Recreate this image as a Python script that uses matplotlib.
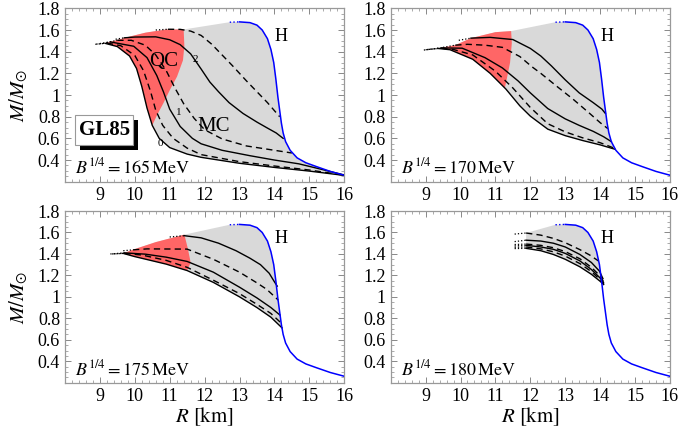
import numpy as np
import matplotlib
matplotlib.use('Agg')
import matplotlib.pyplot as plt
from matplotlib.patches import Rectangle, Polygon
from matplotlib.ticker import MultipleLocator, FuncFormatter

plt.rcParams['font.family'] = ['Liberation Serif', 'DejaVu Serif']
plt.rcParams['mathtext.fontset'] = 'stix'

# hadronic branch (H), same in every panel; first segment is the dotted part
H_R = [12.72, 13.0, 13.3, 13.5, 13.65, 13.8, 13.9, 13.98, 14.04, 14.1, 14.15, 14.2,
       14.25, 14.32, 14.45, 14.65, 14.9, 15.2, 15.6, 16.0]
H_M = [1.672, 1.675, 1.668, 1.645, 1.60, 1.52, 1.42, 1.30, 1.15, 0.98, 0.86, 0.74,
       0.65, 0.57, 0.49, 0.42, 0.375, 0.34, 0.295, 0.26]

# ---- B^1/4 = 165 MeV ----
s0_165_R = [8.87, 9.15, 9.5, 9.85, 10.05, 10.2, 10.35, 10.5, 10.7, 11.0, 11.5, 11.9, 13.0, 14.0, 15.0, 16.0]
s0_165_M = [1.468, 1.477, 1.447, 1.36, 1.245, 1.08, 0.88, 0.72, 0.60, 0.515, 0.455, 0.425, 0.37, 0.332, 0.298, 0.258]
d0_165_R = [8.9, 9.2, 9.6, 10.0, 10.25, 10.45, 10.6, 10.8, 11.1, 11.5, 11.9, 13.0, 14.0, 15.0, 16.0]
d0_165_M = [1.47, 1.48, 1.455, 1.365, 1.225, 1.035, 0.86, 0.72, 0.60, 0.51, 0.45, 0.385, 0.345, 0.308, 0.26]
s1_165_R = [9.0, 9.3, 9.97, 10.35, 10.63, 10.82, 11.0, 11.3, 11.65, 11.9, 12.5, 13.3, 14.0, 14.7, 15.3, 16.0]
s1_165_M = [1.475, 1.49, 1.45, 1.345, 1.18, 1.03, 0.87, 0.71, 0.60, 0.55, 0.49, 0.44, 0.40, 0.365, 0.318, 0.262]
d1_165_R = [9.2, 9.5, 9.9, 10.3, 10.6, 10.9, 11.15, 11.4, 11.7, 12.0, 12.5, 13.2, 14.0, 14.5]
d1_165_M = [1.485, 1.505, 1.505, 1.46, 1.37, 1.225, 1.065, 0.92, 0.785, 0.68, 0.595, 0.53, 0.49, 0.465]
s2_165_R = [9.45, 9.7, 10.0, 10.6, 11.0, 11.3, 11.6, 11.9, 12.15, 12.4, 12.7, 13.1, 13.5, 13.8, 14.05, 14.25]
s2_165_M = [1.515, 1.528, 1.535, 1.537, 1.51, 1.465, 1.38, 1.24, 1.12, 1.03, 0.93, 0.83, 0.75, 0.695, 0.65, 0.6]
d2_165_R = [10.6, 10.95, 11.3, 11.6, 11.9, 12.2, 12.5, 12.8, 13.2, 13.5, 13.8, 14.15]
d2_165_M = [1.6, 1.607, 1.606, 1.59, 1.55, 1.47, 1.37, 1.27, 1.13, 1.03, 0.93, 0.8]
env_165_R = [9.15, 9.8, 10.3, 10.9, 11.4]
env_165_M = [1.477, 1.535, 1.575, 1.605, 1.605]
qc_165_R = [11.4, 11.42, 11.38, 11.21, 11.01, 10.82, 10.63, 10.5]
qc_165_M = [1.605, 1.45, 1.32, 1.17, 1.05, 0.925, 0.81, 0.72]

# ---- B^1/4 = 170 MeV ----
s0_170_R = [8.95, 9.35, 9.7, 10.35, 10.85, 11.3, 11.7, 12.0, 12.5, 13.0, 13.5, 14.0, 14.42]
s0_170_M = [1.415, 1.43, 1.418, 1.33, 1.2, 1.055, 0.9, 0.805, 0.685, 0.625, 0.58, 0.54, 0.5]
d0_170_R = [9.0, 9.45, 9.8, 10.35, 11.0, 11.5, 12.0, 12.5, 13.0, 13.5, 14.0, 14.4]
d0_170_M = [1.418, 1.432, 1.42, 1.37, 1.22, 1.065, 0.885, 0.735, 0.66, 0.605, 0.56, 0.51]
s1_170_R = [9.05, 9.45, 10.05, 10.7, 11.2, 11.65, 12.0, 12.5, 13.0, 13.4, 13.8, 14.1, 14.32]
s1_170_M = [1.42, 1.435, 1.432, 1.345, 1.25, 1.13, 1.02, 0.875, 0.78, 0.72, 0.665, 0.615, 0.57]
d1_170_R = [9.5, 9.85, 10.2, 10.7, 11.2, 11.7, 12.05, 12.3, 12.76, 13.23, 13.7, 14.0, 14.22]
d1_170_M = [1.44, 1.46, 1.468, 1.46, 1.44, 1.355, 1.26, 1.2, 1.08, 0.96, 0.83, 0.745, 0.69]
s2_170_R = [9.95, 10.3, 10.85, 11.5, 12.0, 12.3, 12.6, 13.0, 13.4, 13.8, 14.05, 14.15]
s2_170_M = [1.505, 1.525, 1.532, 1.512, 1.43, 1.36, 1.27, 1.14, 1.02, 0.93, 0.87, 0.83]
env_170_R = [9.35, 9.85, 10.3, 11.0, 11.45]
env_170_M = [1.43, 1.46, 1.525, 1.58, 1.59]
qc_170_R = [11.45, 11.47, 11.42, 11.32, 11.27]
qc_170_M = [1.59, 1.48, 1.3, 1.14, 1.065]

# ---- B^1/4 = 175 MeV ----
s0_175_R = [9.3, 9.67, 10.0, 10.9, 11.5, 12.25, 13.0, 13.5, 13.9, 14.22]
s0_175_M = [1.40, 1.405, 1.375, 1.305, 1.245, 1.135, 1.0, 0.9, 0.81, 0.71]
d0_175_R = [9.35, 9.7, 10.2, 10.9, 11.5, 12.25, 13.0, 13.5, 13.9, 14.18]
d0_175_M = [1.40, 1.405, 1.39, 1.34, 1.275, 1.155, 1.03, 0.93, 0.845, 0.76]
s1_175_R = [9.4, 9.7, 10.3, 10.9, 11.5, 12.25, 13.0, 13.5, 13.9, 14.16]
s1_175_M = [1.402, 1.41, 1.398, 1.37, 1.33, 1.23, 1.09, 0.99, 0.9, 0.83]
d1_175_R = [9.67, 9.95, 10.35, 11.5, 12.25, 13.0, 13.5, 13.78, 14.11]
d1_175_M = [1.43, 1.438, 1.447, 1.445, 1.35, 1.23, 1.13, 1.07, 0.97]
s2_175_R = [11.0, 11.42, 11.9, 12.4, 12.9, 13.3, 13.6, 13.85, 14.0, 14.08]
s2_175_M = [1.558, 1.57, 1.55, 1.5, 1.43, 1.36, 1.3, 1.22, 1.14, 1.1]
env_175_R = [9.67, 9.95, 10.6, 11.42]
env_175_M = [1.405, 1.44, 1.51, 1.58]
qc_175_R = [11.42, 11.52, 11.6, 11.5]
qc_175_M = [1.58, 1.45, 1.32, 1.245]

# ---- B^1/4 = 180 MeV ----
s0_180_R = [11.55, 11.88, 12.3, 12.66, 13.0, 13.42, 13.75, 14.0, 14.1]
s0_180_M = [1.45, 1.452, 1.43, 1.395, 1.35, 1.28, 1.21, 1.145, 1.115]
d0_180_R = [11.55, 11.88, 12.3, 12.66, 13.0, 13.42, 13.75, 14.0, 14.1]
d0_180_M = [1.462, 1.465, 1.447, 1.42, 1.38, 1.31, 1.235, 1.16, 1.12]
s1_180_R = [11.55, 11.88, 12.3, 12.66, 13.0, 13.42, 13.75, 14.0, 14.1]
s1_180_M = [1.475, 1.48, 1.465, 1.443, 1.405, 1.335, 1.255, 1.175, 1.13]
d1_180_R = [11.55, 11.88, 12.3, 12.66, 13.0, 13.42, 13.75, 14.0, 14.1]
d1_180_M = [1.488, 1.492, 1.48, 1.458, 1.422, 1.355, 1.275, 1.195, 1.14]
s2_180_R = [11.55, 11.88, 12.3, 12.66, 13.0, 13.42, 13.75, 13.98, 14.08]
s2_180_M = [1.515, 1.528, 1.52, 1.5, 1.465, 1.395, 1.32, 1.24, 1.17]
d2_180_R = [11.55, 11.88, 12.3, 12.66, 13.0, 13.42, 13.7, 13.95]
d2_180_M = [1.585, 1.595, 1.575, 1.545, 1.505, 1.44, 1.39, 1.335]
env_180_R = [11.88, 11.88]
env_180_M = [1.452, 1.595]

B_values = [165, 170, 175, 180]

GRAY = '#d9d9d9'
RED = '#ff6666'


def draw_curve(ax, R, M, dashed):
    # first segment dotted (unstable part), rest solid or dashed
    ax.plot(R[:2], M[:2], color='k', lw=0.9, ls=(0, (1, 1.6)), zorder=4)
    if dashed:
        ax.plot(R[1:], M[1:], color='k', lw=1.0, ls=(0, (4.5, 3)), zorder=4)
    else:
        ax.plot(R[1:], M[1:], color='k', lw=1.0, zorder=4)


def fill_regions(ax, env_R, env_M, s0_R, s0_M, qc_R=None, qc_M=None):
    hr = np.array(H_R)
    hm = np.array(H_M)
    keep = hm > s0_M[-1]
    xs = list(env_R) + list(hr[keep]) + [s0_R[-1]] + list(s0_R[1:-1][::-1])
    ys = list(env_M) + list(hm[keep]) + [s0_M[-1]] + list(s0_M[1:-1][::-1])
    ax.add_patch(Polygon(np.column_stack([xs, ys]), closed=True, fc=GRAY, ec='none', zorder=1))
    if qc_R is None:
        return
    xs = [r for r in env_R if r < qc_R[0]]
    ys = [m for r, m in zip(env_R, env_M) if r < qc_R[0]]
    xs += list(qc_R)
    ys += list(qc_M)
    lower = [(r, m) for r, m in zip(s0_R[1:], s0_M[1:]) if r < qc_R[-1]]
    for r, m in lower[::-1]:
        xs.append(r)
        ys.append(m)
    ax.add_patch(Polygon(np.column_stack([xs, ys]), closed=True, fc=RED, ec='none', zorder=2))


def style_axes(ax):
    ax.set_xlim(8, 16)
    ax.set_ylim(0.2, 1.8)
    ax.xaxis.set_major_locator(MultipleLocator(1))
    ax.xaxis.set_minor_locator(MultipleLocator(0.2))
    ax.yaxis.set_major_locator(MultipleLocator(0.2))
    ax.yaxis.set_minor_locator(MultipleLocator(0.05))
    ax.xaxis.set_major_formatter(FuncFormatter(lambda v, p: '' if v < 8.5 else '%g' % v))
    ax.yaxis.set_major_formatter(FuncFormatter(lambda v, p: '' if v < 0.3 else '%g' % round(v, 2)))
    ax.tick_params(which='both', direction='in', top=True, right=True, color='#888888',
                   labelsize=13)
    ax.tick_params(which='major', length=4, width=0.7)
    ax.tick_params(which='minor', length=2, width=0.5)
    for sp in ax.spines.values():
        sp.set_color('#999999')
        sp.set_linewidth(0.9)


fig = plt.figure(figsize=(6.81, 4.34), dpi=100)
rects = [[0.0954, 0.5813, 0.4101, 0.3995], [0.5737, 0.5813, 0.4101, 0.3995],
         [0.0954, 0.1182, 0.4101, 0.3956], [0.5737, 0.1182, 0.4101, 0.3956]]
axes = [fig.add_axes(r) for r in rects]

panels = [
    dict(curves=[(s0_165_R, s0_165_M, False), (d0_165_R, d0_165_M, True), (s1_165_R, s1_165_M, False),
                 (d1_165_R, d1_165_M, True), (s2_165_R, s2_165_M, False), (d2_165_R, d2_165_M, True)],
         env=(env_165_R, env_165_M), qc=(qc_165_R, qc_165_M)),
    dict(curves=[(s0_170_R, s0_170_M, False), (d0_170_R, d0_170_M, True), (s1_170_R, s1_170_M, False),
                 (d1_170_R, d1_170_M, True), (s2_170_R, s2_170_M, False)],
         env=(env_170_R, env_170_M), qc=(qc_170_R, qc_170_M)),
    dict(curves=[(s0_175_R, s0_175_M, False), (d0_175_R, d0_175_M, True), (s1_175_R, s1_175_M, False),
                 (d1_175_R, d1_175_M, True), (s2_175_R, s2_175_M, False)],
         env=(env_175_R, env_175_M), qc=(qc_175_R, qc_175_M)),
    dict(curves=[(s0_180_R, s0_180_M, False), (d0_180_R, d0_180_M, True), (s1_180_R, s1_180_M, False),
                 (d1_180_R, d1_180_M, True), (s2_180_R, s2_180_M, False), (d2_180_R, d2_180_M, True)],
         env=(env_180_R, env_180_M), qc=(None, None)),
]

for i, (ax, pan) in enumerate(zip(axes, panels)):
    style_axes(ax)
    s0R, s0M, _ = pan['curves'][0]
    fill_regions(ax, pan['env'][0], pan['env'][1], s0R, s0M, pan['qc'][0], pan['qc'][1])
    for R, M, dashed in pan['curves']:
        draw_curve(ax, R, M, dashed)
    ax.plot(H_R[:2], H_M[:2], color='#0000ff', lw=1.0, ls=(0, (1, 1.6)), zorder=5)
    ax.plot(H_R[1:], H_M[1:], color='#0000ff', lw=1.1, zorder=5)
    ax.text(14.2, 1.54, 'H', fontsize=13, ha='center', va='center', zorder=6)
    ax.text(0.037, 0.08, r'$B^{1/4} = %d\,\mathrm{MeV}$' % B_values[i], transform=ax.transAxes,
            fontsize=13, ha='left', va='center', zorder=6)
    if i % 2 == 0:
        ax.set_ylabel(r'$M/M_{\odot}$', fontsize=15)
        ax.yaxis.set_label_coords(-0.125, 0.5)
    if i >= 2:
        ax.set_xlabel(r'$R\ [\mathrm{km}]$', fontsize=15)
        ax.xaxis.set_label_coords(0.5, -0.13)

# labels in the first panel
ax = axes[0]
ax.text(10.82, 1.31, 'QC', fontsize=15, ha='center', va='center', zorder=6)
ax.text(12.25, 0.71, 'MC', fontsize=15, ha='center', va='center', zorder=6)
ax.text(10.73, 0.557, '0', fontsize=8, ha='center', va='center', zorder=6)
ax.text(11.27, 0.84, '1', fontsize=8, ha='center', va='center', zorder=6)
ax.text(11.73, 1.33, '2', fontsize=8, ha='center', va='center', zorder=6)
ax.add_patch(Rectangle((0.054, 0.183), 0.209, 0.173, transform=ax.transAxes,
                       fc='k', ec='none', zorder=7))
ax.add_patch(Rectangle((0.036, 0.212), 0.209, 0.173, transform=ax.transAxes,
                       fc='white', ec='#999999', lw=0.8, zorder=8))
ax.text(0.1405, 0.2985, 'GL85', transform=ax.transAxes, fontsize=15, fontweight='bold',
        ha='center', va='center', zorder=9)

fig.savefig('out.png', dpi=100)
